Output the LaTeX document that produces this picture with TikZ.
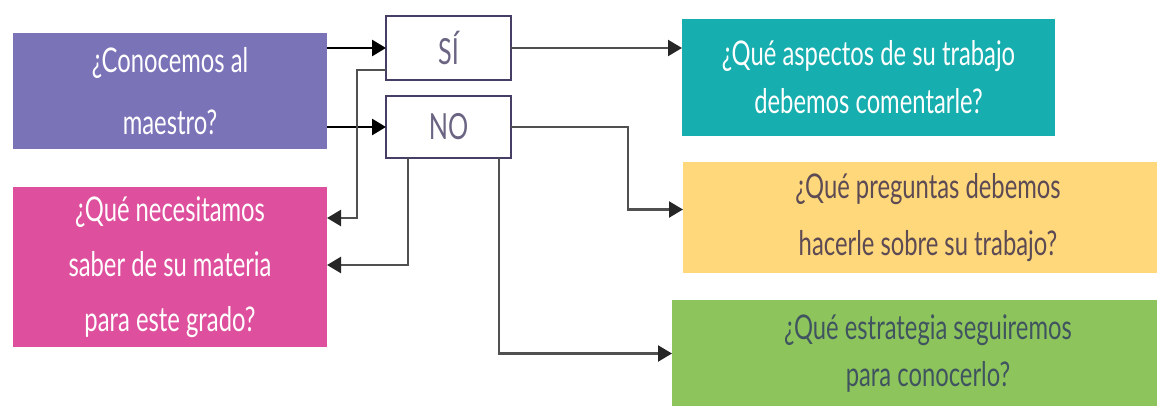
\documentclass[tikz,border=0pt]{standalone}
\usepackage{fontspec}
\setmainfont{Lato}[FakeStretch=0.7]
\usepackage{tikz}
\usetikzlibrary{arrows.meta,positioning,calc}
\definecolor{qpurple}{RGB}{123,115,184}
\definecolor{qpink}{RGB}{222,80,158}
\definecolor{qteal}{RGB}{22,174,174}
\definecolor{qyellow}{RGB}{254,216,122}
\definecolor{qgreen}{RGB}{141,197,92}
\definecolor{qborder}{RGB}{70,62,100}
\definecolor{qline}{RGB}{80,80,80}
\definecolor{qbrown}{RGB}{92,74,84}
\definecolor{qslate}{RGB}{64,84,96}
\tikzstyle{blackarrow} = [line width=2.6pt,-{Triangle[length=14pt,width=16pt]},color=black]
\tikzstyle{grayarrow} = [line width=2.4pt,-{Triangle[length=14pt,width=16pt,color=black!85]},color=qline]
\tikzstyle{qbox} = [rectangle, inner sep=0pt, outer sep=0pt, align=center, text=white, font=\fontsize{34}{48}\selectfont]
\tikzstyle{answerbox} = [rectangle, inner sep=0pt, outer sep=0pt, draw=qborder, line width=2.4pt, fill=white, text=qborder!80, minimum width=125pt, font=\fontsize{36}{36}\selectfont]

\begin{document}
\begin{tikzpicture}[x=1pt,y=-1pt]
\useasboundingbox (0,0) rectangle (1157,406);
\clip (0,0) rectangle (1157,406);
% Question and answers
\node[qbox, fill=qpurple, minimum width=314pt, minimum height=116pt, font=\fontsize{34}{62}\selectfont] (conocemos) at (170,91) {¿Conocemos al\\maestro?};
\node[answerbox, minimum height=64pt] (si) at (448.5,48) {SÍ};
\node[answerbox, minimum height=62pt] (no) at (448.5,127) {NO};
\draw[blackarrow] (conocemos.east |- si.west) -- (si.west);
\draw[blackarrow] (conocemos.east |- no.west) -- (no.west);

% What follows
\node[qbox, fill=qpink, minimum width=314pt, minimum height=160pt, font=\fontsize{34}{55}\selectfont] (necesitamos) at (170,267) {¿Qué necesitamos\\saber de su materia\\para este grado?};
\node[qbox, fill=qteal, minimum width=373pt, minimum height=117pt] (aspectos) at (868.5,77.5) {¿Qué aspectos de su trabajo\\debemos comentarle?};
\node[qbox, fill=qyellow, text=qbrown, minimum width=490pt, minimum height=111pt, font=\fontsize{34}{57}\selectfont] (preguntas) at (928,217.5) {¿Qué preguntas debemos\\hacerle sobre su trabajo?};
\node[qbox, fill=qgreen, text=qslate, minimum width=512pt, minimum height=107pt, font=\fontsize{34}{47}\selectfont] (estrategia) at (928,353.5) {¿Qué estrategia seguiremos\\para conocerlo?};

% Connectors
\draw[grayarrow] (si.east) -- (aspectos.west |- si.east);
\draw[grayarrow] (no.east) -- ++(117,0) |- ([yshift=8pt]preguntas.west);
\draw[grayarrow] ([xshift=50.5pt]no.south) |- (estrategia.west);
\draw[grayarrow] ([yshift=-22pt]si.west) -- ++(-29,0) |- ([yshift=49pt]necesitamos.east);
\draw[grayarrow] ([xshift=-40.5pt]no.south) |- ([yshift=2pt]necesitamos.east);
\end{tikzpicture}
\end{document}
